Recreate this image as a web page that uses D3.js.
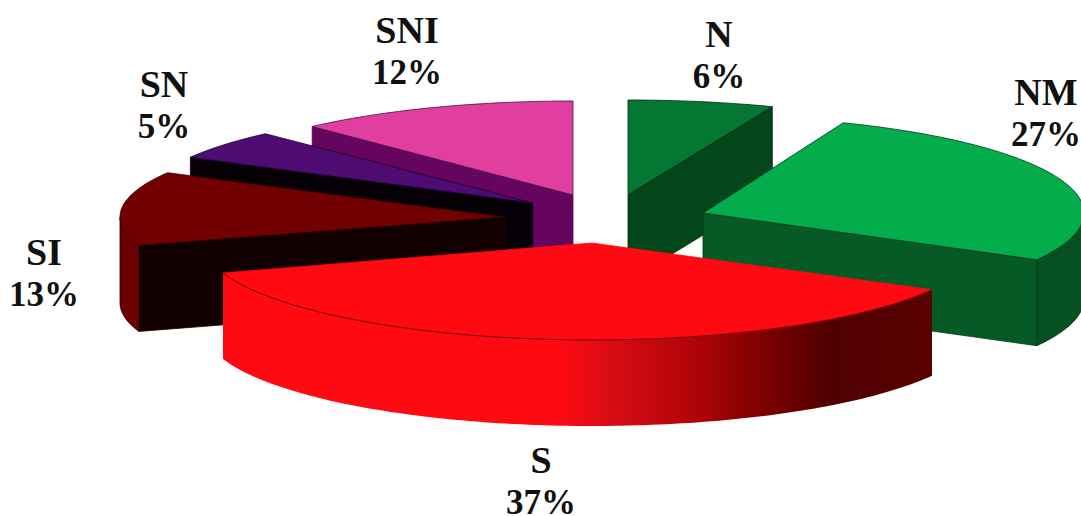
<!DOCTYPE html>
<html>
<head>
<meta charset="utf-8">
<script src="https://cdn.jsdelivr.net/npm/d3@7"></script>
<style>
  html, body { margin: 0; padding: 0; background: #fff; }
  svg { display: block; }
  .label { font-family: "Liberation Serif", serif; font-weight: bold; fill: #111; text-anchor: middle; }
  .name { font-size: 38px; }
  .pct { font-size: 35px; }
</style>
</head>
<body>
<svg id="pie" width="1081" height="516"></svg>
<script>
var categories = ["N", "NM", "S", "SI", "SN", "SNI"];
var shares = [6, 27, 37, 13, 5, 12];

(function(){

    var svg = d3.select("#pie");
    var depth = 86;

    // where each exploded wedge sits, and its look
    var wedges = {
        N:   { x: 628, y: 195, rx: 392, ry: 95,  top: "#047832", side: "#03461a", rim: "#03461a", line: "#02260e", lx: 719,  ly: 47 },
        NM:  { x: 703, y: 213, rx: 381, ry: 97,  top: "#04ad4b", side: "#055a26", rim: "#064f20", line: "#02391a", lx: 1046, ly: 105 },
        S:   { x: 592, y: 243, rx: 388, ry: 97,  top: "#ff0a12", side: "#ff0a12", rim: "url(#rimS)", line: "#7a0008", lx: 541, ly: 473 },
        SI:  { x: 505, y: 217, rx: 385, ry: 92,  top: "#720000", side: "#120000", rim: "#6a0000", line: "#2a0000", lx: 44,  ly: 265 },
        SN:  { x: 533, y: 203, rx: 391, ry: 95,  top: "#4e0b72", side: "#050005", rim: "#050005", line: "#1c0428", lx: 164, ly: 97 },
        SNI: { x: 573, y: 195, rx: 381, ry: 94,  top: "#e03fa0", side: "#65055f", rim: "#65055f", line: "#4a0a48", lx: 407, ly: 43 }
    };

    var gradient = svg.append("defs").append("linearGradient")
        .attr("id", "rimS")
        .attr("gradientUnits", "userSpaceOnUse")
        .attr("x1", 225).attr("x2", 935).attr("y1", 0).attr("y2", 0);
    [[0, "#ff0a12"], [0.47, "#ff0a12"], [0.55, "#d60c14"], [0.66, "#b00408"], [0.76, "#7c0000"], [0.85, "#500000"], [1, "#5a0000"]]
        .forEach(function (s) {
            gradient.append("stop").attr("offset", s[0]).attr("stop-color", s[1]);
        });

    var pie = d3.pie().sort(null).value(function (d) { return d.share; });
    var arcs = pie(categories.map(function (c, i) { return { name: c, share: shares[i] }; }));

    var line = d3.line();

    function project(w, angle, drop) {
        return [w.x + w.rx * Math.sin(angle), w.y - w.ry * Math.cos(angle) + (drop || 0)];
    }

    function rimPoints(w, a0, a1, drop) {
        var steps = Math.max(2, Math.ceil((a1 - a0) / 0.02));
        return d3.range(steps + 1).map(function (i) {
            return project(w, a0 + (a1 - a0) * i / steps, drop);
        });
    }

    // back wedges first, the big front one last
    var order = ["N", "SNI", "SN", "SI", "NM", "S"];

    order.forEach(function (name) {
        var d = arcs[categories.indexOf(name)];
        var w = wedges[name];
        var g = svg.append("g").attr("class", "wedge");
        var apex = [w.x, w.y];
        var apexLow = [w.x, w.y + depth];

        // flat cut face that turns toward the viewer
        var cut = d.endAngle < Math.PI ? d.endAngle : (d.startAngle > Math.PI ? d.startAngle : null);
        if (cut !== null) {
            g.append("path")
                .attr("d", line([apex, project(w, cut), project(w, cut, depth), apexLow]) + "Z")
                .attr("fill", w.side)
                .attr("stroke", w.line)
                .attr("stroke-width", 0.8);
        }

        // curved outer wall, front half only
        var a0 = Math.max(d.startAngle, Math.PI / 2),
            a1 = Math.min(d.endAngle, Math.PI * 1.5);
        if (a1 > a0) {
            var pts = rimPoints(w, a0, a1, 0).concat(rimPoints(w, a0, a1, depth).reverse());
            g.append("path")
                .attr("d", line(pts) + "Z")
                .attr("fill", w.rim)
                .attr("stroke", name === "S" ? "none" : w.line)
                .attr("stroke-width", 0.8);
        }

        // top face
        g.append("path")
            .attr("d", line([apex].concat(rimPoints(w, d.startAngle, d.endAngle, 0))) + "Z")
            .attr("fill", w.top)
            .attr("stroke", name === "S" ? "#ff0a12" : w.line)
            .attr("stroke-width", 0.8);

        if (name === "S") {
            g.append("path")
                .attr("d", line(rimPoints(w, d.startAngle, d.endAngle, 0)))
                .attr("fill", "none")
                .attr("stroke", "#5a0006")
                .attr("stroke-width", 0.9);
        }
    });

    var labels = svg.selectAll(".label")
        .data(arcs)
        .enter()
        .append("text")
        .attr("class", "label")
        .attr("transform", function (d) {
            var w = wedges[d.data.name];
            return "translate(" + w.lx + "," + w.ly + ")";
        });

    labels.append("tspan")
        .attr("class", "name")
        .attr("x", 0)
        .text(function (d) { return d.data.name; });

    labels.append("tspan")
        .attr("class", "pct")
        .attr("x", 0)
        .attr("dy", 41)
        .text(function (d) { return d.data.share + "%"; });

})();
</script>
</body>
</html>
